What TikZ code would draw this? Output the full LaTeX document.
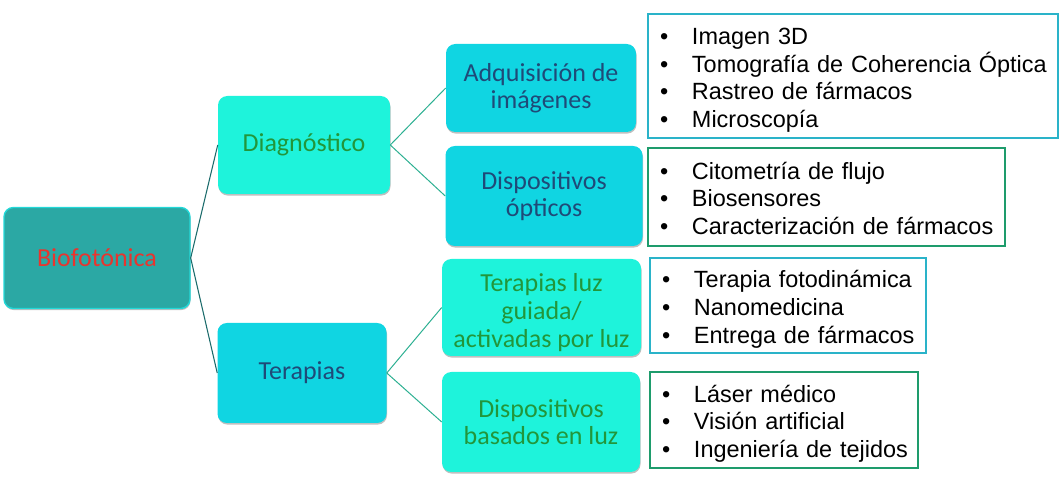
\documentclass[tikz,border=0pt]{standalone}
\usepackage{fontspec}
\setmainfont{Carlito}
\newfontfamily\listfont{Liberation Sans}
\usetikzlibrary{shadows}

\definecolor{rootfill}{HTML}{2BA8A4}
\definecolor{rootline}{HTML}{22D8D8}
\definecolor{aquafill}{HTML}{1EF3DB}
\definecolor{cyanfill}{HTML}{10D5E2}
\definecolor{greentext}{HTML}{22963A}
\definecolor{bluetext}{HTML}{1F4A78}
\definecolor{redtext}{HTML}{E8352F}
\definecolor{linkdark}{HTML}{1B6B6B}
\definecolor{linklight}{HTML}{2DB092}
\definecolor{boxcyan}{HTML}{2AB3C9}
\definecolor{boxgreen}{HTML}{1E9C6C}

\newcommand{\itm}[1]{\makebox[24pt][l]{•}\mbox{#1}}
\newcommand{\firstln}{\rule{0pt}{20pt}}
\newcommand{\lastln}{\rule[-5pt]{0pt}{5pt}}

\begin{document}
\begin{tikzpicture}[x=0.75pt,y=-0.75pt,thin,
	main node/.style = {rectangle, rounded corners=7pt, inner sep=2pt, align=center,
		font=\fontsize{19.5}{20.5}\selectfont,
		drop shadow={shadow xshift=0.4pt, shadow yshift=-1.2pt, fill=black, opacity=0.25}},
	aqua node/.style = {main node, fill=aquafill, text=greentext},
	cyan node/.style = {main node, fill=cyanfill, text=bluetext},
	list node/.style = {rectangle, draw, line width=1pt, fill=white, align=left,
		inner xsep=9pt, inner ysep=1pt, font=\listfont\fontsize{17.6}{20.8}\selectfont}]
	\useasboundingbox (0,0) rectangle (1064,491);

	% main branches
	\node[main node,fill=rootfill,draw=rootline,line width=1pt,text=redtext,
		minimum width=139.5pt,minimum height=75.75pt] at (97,258) (bio) {Biofotónica};
	\node[aqua node,minimum width=129pt,minimum height=73.5pt] at (304,145) (diag) {Diagnóstico};
	\node[cyan node,minimum width=126.75pt,minimum height=75pt] at (302,373) (ter) {Terapias};

	% second level
	\node[cyan node,minimum width=142.5pt,minimum height=66pt] at (541,88) (adq) {Adquisición de\\imágenes};
	\node[cyan node,minimum width=147.75pt,minimum height=75pt] at (544,196) (dop) {Dispositivos\\ópticos};
	\node[aqua node,font=\fontsize{19.5}{21.2}\selectfont,inner ysep=0pt,minimum width=149.25pt,minimum height=72.75pt]
		at (541.5,307.5) (tluz) {\rule{0pt}{18pt}Terapias luz\\guiada/\\\smash{activadas por luz}};
	\node[aqua node,minimum width=148.5pt,minimum height=75pt] at (541,422) (dluz) {Dispositivos\\basados en luz};

	% lists
	\node[list node,draw=boxcyan,text width=289.5pt,minimum height=93pt] at (853,76) (l1)
		{\firstln\itm{Imagen 3D}\\\itm{Tomografía de Coherencia Óptica}\\\itm{Rastreo de fármacos}\\\itm{Microscopía}\lastln};
	\node[list node,draw=boxgreen,text width=249.75pt,minimum height=73.5pt] at (826.5,197) (l2)
		{\firstln\itm{Citometría de flujo}\\\itm{Biosensores}\\\itm{Caracterización de fármacos}\lastln};
	\node[list node,draw=boxcyan,text width=189pt,minimum height=71.25pt] at (788,305.5) (l3)
		{\firstln\itm{Terapia fotodinámica}\\\itm{Nanomedicina}\\\itm{Entrega de fármacos}\lastln};
	\node[list node,draw=boxgreen,text width=183pt,minimum height=72pt] at (784,420) (l4)
		{\firstln\itm{Láser médico}\\\itm{Visión artificial}\\\itm{Ingeniería de tejidos}\lastln};

	\path[-,draw=linkdark,line width=0.8pt]
	(bio.east) edge (diag.west)
	(bio.east) edge (ter.west);
	\path[-,draw=linklight,line width=0.75pt]
	(diag.east) edge (adq.west)
	(diag.east) edge (dop.west)
	(ter.east) edge (tluz.west)
	(ter.east) edge (dluz.west);
\end{tikzpicture}
\end{document}
